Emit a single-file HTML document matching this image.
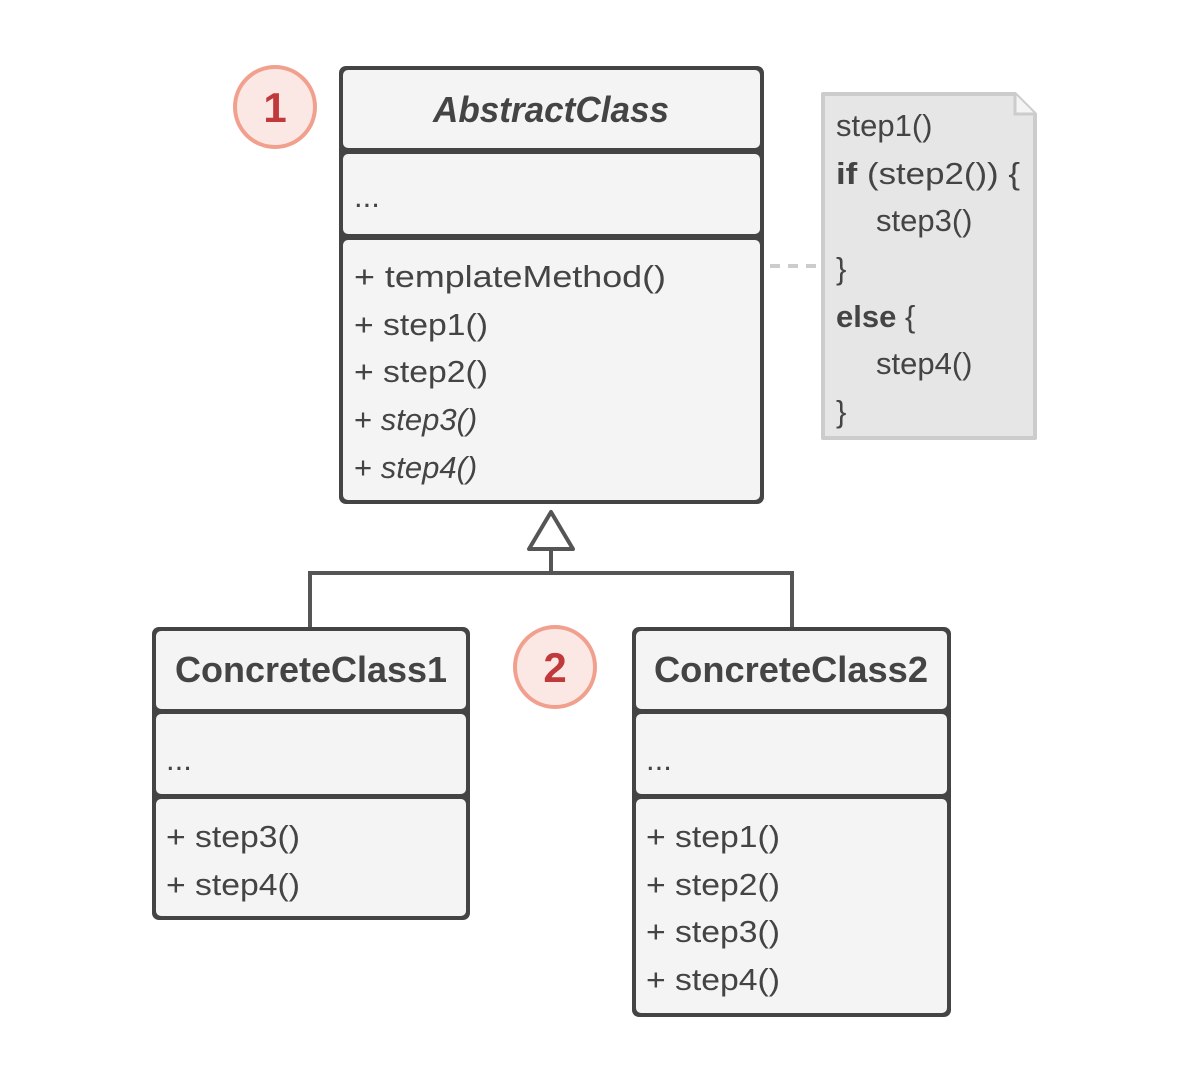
<!DOCTYPE html>
<html><head><meta charset="utf-8"><style>
html,body{margin:0;padding:0;background:#fff}
svg{display:block}
text{font-family:"Liberation Sans",sans-serif;fill:#444}
.t{font-size:36px;font-weight:bold}
.m{font-size:31px}
.n{font-size:31px}
</style></head><body>
<svg width="1194" height="1066" viewBox="0 0 1194 1066" xmlns="http://www.w3.org/2000/svg">
<line x1="770" y1="266" x2="820" y2="266" stroke="#ccc" stroke-width="4" stroke-dasharray="10,8"/>
<polyline points="310,627 310,573 792,573 792,627" fill="none" stroke="#555" stroke-width="4"/>
<line x1="551" y1="549" x2="551" y2="573" stroke="#555" stroke-width="4"/>
<polygon points="551,512 529,549 573,549" fill="#fff" stroke="#555" stroke-width="4" stroke-linejoin="round"/>

<rect x="339" y="66" width="425" height="438" rx="7" fill="#444"/>
<rect x="343" y="70" width="417" height="78" rx="5" fill="#f4f4f4"/>
<rect x="343" y="154" width="417" height="80" rx="5" fill="#f4f4f4"/>
<rect x="343" y="240" width="417" height="260" rx="5" fill="#f4f4f4"/>
<text class="t" x="551" y="122" text-anchor="middle" font-style="italic" textLength="236" lengthAdjust="spacingAndGlyphs">AbstractClass</text>
<text class="m" x="354" y="207">...</text>
<text class="m" x="354" y="287" textLength="312" lengthAdjust="spacingAndGlyphs">+ templateMethod()</text>
<text class="m" x="354" y="335" textLength="134" lengthAdjust="spacingAndGlyphs">+ step1()</text>
<text class="m" x="354" y="382" textLength="134" lengthAdjust="spacingAndGlyphs">+ step2()</text>
<text class="m" x="354" y="430">+ <tspan font-style="italic">step3()</tspan></text>
<text class="m" x="354" y="478">+ <tspan font-style="italic">step4()</tspan></text>

<path d="M823,94 L1015,94 L1035,114 L1035,438 L823,438 Z" fill="#e6e6e6" stroke="#ccc" stroke-width="4" stroke-linejoin="round"/>
<path d="M1015,94 L1015,114 L1035,114" fill="#f4f4f4" stroke="#ccc" stroke-width="3"/>
<text class="n" x="836" y="136">step1()</text>
<text class="n" x="836" y="184" textLength="184" lengthAdjust="spacingAndGlyphs"><tspan font-weight="bold">if</tspan> (step2()) {</text>
<text class="n" x="876" y="231">step3()</text>
<text class="n" x="836" y="279">}</text>
<text class="n" x="836" y="327"><tspan font-weight="bold">else</tspan> {</text>
<text class="n" x="876" y="374">step4()</text>
<text class="n" x="836" y="422">}</text>

<rect x="152" y="627" width="318" height="293" rx="7" fill="#444"/>
<rect x="156" y="631" width="310" height="78" rx="5" fill="#f4f4f4"/>
<rect x="156" y="714" width="310" height="80" rx="5" fill="#f4f4f4"/>
<rect x="156" y="799" width="310" height="117" rx="5" fill="#f4f4f4"/>
<text class="t" x="311" y="682" text-anchor="middle" textLength="272" lengthAdjust="spacingAndGlyphs">ConcreteClass1</text>
<text class="m" x="166" y="770">...</text>
<text class="m" x="166" y="847" textLength="134" lengthAdjust="spacingAndGlyphs">+ step3()</text>
<text class="m" x="166" y="895" textLength="134" lengthAdjust="spacingAndGlyphs">+ step4()</text>

<rect x="632" y="627" width="319" height="390" rx="7" fill="#444"/>
<rect x="636" y="631" width="311" height="78" rx="5" fill="#f4f4f4"/>
<rect x="636" y="714" width="311" height="80" rx="5" fill="#f4f4f4"/>
<rect x="636" y="799" width="311" height="214" rx="5" fill="#f4f4f4"/>
<text class="t" x="791" y="682" text-anchor="middle" textLength="274" lengthAdjust="spacingAndGlyphs">ConcreteClass2</text>
<text class="m" x="646" y="770">...</text>
<text class="m" x="646" y="847" textLength="134" lengthAdjust="spacingAndGlyphs">+ step1()</text>
<text class="m" x="646" y="895" textLength="134" lengthAdjust="spacingAndGlyphs">+ step2()</text>
<text class="m" x="646" y="942" textLength="134" lengthAdjust="spacingAndGlyphs">+ step3()</text>
<text class="m" x="646" y="990" textLength="134" lengthAdjust="spacingAndGlyphs">+ step4()</text>

<circle cx="275" cy="107" r="40" fill="#fbe8e4" stroke="#f2a08e" stroke-width="4"/>
<text x="275" y="122" text-anchor="middle" font-size="42" font-weight="bold" style="fill:#c0393b">1</text>
<circle cx="555" cy="667" r="40" fill="#fbe8e4" stroke="#f2a08e" stroke-width="4"/>
<text x="555" y="682" text-anchor="middle" font-size="42" font-weight="bold" style="fill:#c0393b">2</text>
</svg>
</body></html>
